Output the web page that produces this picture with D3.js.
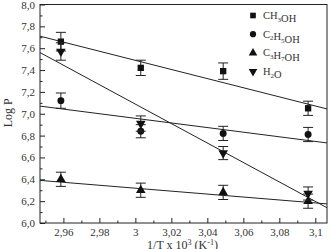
<!DOCTYPE html>
<html>
<head>
<meta charset="utf-8">
<script src="https://cdn.jsdelivr.net/npm/d3@7"></script>
<style>
  body { margin: 0; background: #fff; }
  svg text { font-family: "Liberation Serif", "Times New Roman", serif; fill: #333; }
</style>
</head>
<body>
<div id="chart"></div>
<script>
// data
const invT = [2.9586, 3.0030, 3.0488, 3.0960];
const seriesNames = ["CH3OH", "C2H5OH", "C3H7OH", "H2O"];
const ch3oh = [7.66, 7.42, 7.39, 7.05];
const c2h5oh = [7.12, 6.84, 6.82, 6.81];
const c3h7oh = [6.40, 6.30, 6.28, 6.20];
const h2o = [7.57, 6.91, 6.64, 6.27];
const ch3ohErr = [0.085, 0.07, 0.075, 0.065];
const c2h5ohErr = [0.07, 0.06, 0.065, 0.065];
const c3h7ohErr = [0.065, 0.065, 0.065, 0.065];
const h2oErr = [0.08, 0.07, 0.06, 0.06];
// fitted lines: value at left and right end of x axis
const fitLeft = [7.71, 7.07, 6.39, 7.56];
const fitRight = [7.044, 6.733, 6.175, 6.14];
const xTicks = [2.96, 2.98, 3.00, 3.02, 3.04, 3.06, 3.08, 3.10];
const yTicks = [6.0, 6.2, 6.4, 6.6, 6.8, 7.0, 7.2, 7.4, 7.6, 7.8, 8.0];

const margin = { top: 4.5, right: 5, bottom: 26, left: 40 }
const width = 332 - margin.left - margin.right
const height = 249 - margin.top - margin.bottom

const svg = d3.select("#chart")
  .append("svg")
  .attr("width", 332)
  .attr("height", 249)
  .append("g")
  .attr("transform", "translate(" + margin.left + "," + margin.top + ")");

const x = d3.scaleLinear().domain([2.947, 3.1065]).range([0, width]);
const y = d3.scaleLinear().domain([6.0, 8.0]).range([height, 0]);

const ink = "#222";

// axes with inward ticks
const xAxis = d3.axisBottom(x).tickValues(xTicks).tickSizeInner(-5).tickSizeOuter(0).tickPadding(5)
  .tickFormat(d => String(+d.toFixed(2)).replace(".", ","));
const xMinor = d3.axisBottom(x).tickValues(xTicks.map(d => d - 0.01)).tickSizeInner(-2.5).tickSizeOuter(0).tickFormat("");
const yAxis = d3.axisLeft(y).tickValues(yTicks).tickSizeInner(-5).tickSizeOuter(0).tickPadding(5)
  .tickFormat(d => d.toFixed(1).replace(".", ","));
const yMinor = d3.axisLeft(y).tickValues(yTicks.slice(1).map(d => d - 0.1)).tickSizeInner(-2.5).tickSizeOuter(0).tickFormat("");

[[xAxis, true], [xMinor, true], [yAxis, false], [yMinor, false]].forEach(([ax, isX]) => {
  const g = svg.append("g")
    .attr("transform", isX ? "translate(0," + height + ")" : null)
    .call(ax);
  g.attr("font-family", null);
  g.select(".domain").remove();
  g.selectAll("line").attr("stroke", ink);
  g.selectAll("text").style("font-size", "11px").attr("fill", "#333");
});

svg.append("rect")
  .attr("width", width)
  .attr("height", height)
  .attr("fill", "none")
  .attr("stroke", ink)
  .attr("stroke-width", 1);

const series = [
  { vals: ch3oh, err: ch3ohErr, sym: d3.symbolSquare, size: 40, rot: 0 },
  { vals: c2h5oh, err: c2h5ohErr, sym: d3.symbolCircle, size: 38, rot: 0 },
  { vals: c3h7oh, err: c3h7ohErr, sym: d3.symbolTriangle, size: 40, rot: 0 },
  { vals: h2o, err: h2oErr, sym: d3.symbolTriangle, size: 40, rot: 180 }
];

// fit lines
series.forEach((s, i) => {
  svg.append("line")
    .attr("x1", x(x.domain()[0]))
    .attr("y1", y(fitLeft[i]))
    .attr("x2", x(x.domain()[1]))
    .attr("y2", y(fitRight[i]))
    .attr("stroke", ink)
    .attr("stroke-width", 1);
});

// error bars and markers
series.forEach(s => {
  const pts = invT.map((t, j) => ({ t: t, v: s.vals[j], e: s.err[j] }));
  const g = svg.append("g");
  g.selectAll("line.eb").data(pts).enter().append("line")
    .attr("x1", d => x(d.t)).attr("x2", d => x(d.t))
    .attr("y1", d => y(d.v + d.e)).attr("y2", d => y(d.v - d.e))
    .attr("stroke", ink);
  [1, -1].forEach(sign => {
    g.selectAll("line.cap" + sign).data(pts).enter().append("line")
      .attr("x1", d => x(d.t) - 5).attr("x2", d => x(d.t) + 5)
      .attr("y1", d => y(d.v + sign * d.e)).attr("y2", d => y(d.v + sign * d.e))
      .attr("stroke", ink);
  });
  g.selectAll("path").data(pts).enter().append("path")
    .attr("d", d3.symbol().type(s.sym).size(s.size))
    .attr("transform", d => "translate(" + x(d.t) + "," + y(d.v) + ") rotate(" + s.rot + ")")
    .attr("fill", "#111");
});

// legend
const legend = svg.append("g").attr("transform", "translate(213,11)");
series.forEach((s, i) => {
  const row = legend.append("g").attr("transform", "translate(0," + i * 18.7 + ")");
  row.append("path")
    .attr("d", d3.symbol().type(s.sym).size(s.size * 0.8))
    .attr("transform", "rotate(" + s.rot + ")")
    .attr("fill", "#111");
  const txt = row.append("text").attr("x", 10).attr("y", 3.5).style("font-size", "10.5px");
  // split chemical formula into normal text and subscripts
  seriesNames[i].match(/[A-Za-z]+|\d+/g).forEach(part => {
    if (/\d/.test(part)) {
      txt.append("tspan").attr("dy", 2.5).style("font-size", "7px").text(part);
      txt.append("tspan").attr("dy", -2.5).text("");
    } else {
      txt.append("tspan").text(part);
    }
  });
});

// axis titles
svg.append("text")
  .attr("transform", "translate(" + (-28) + "," + (height / 2 - 1) + ") rotate(-90)")
  .style("text-anchor", "middle")
  .style("font-size", "12px")
  .text("Log P");

const xt = svg.append("text")
  .attr("x", width / 2 - 1)
  .attr("y", height + 26)
  .style("text-anchor", "middle")
  .style("font-size", "12px");
xt.append("tspan").text("1/T x 10");
xt.append("tspan").attr("dy", -4).style("font-size", "8px").text("3");
xt.append("tspan").attr("dy", 4).text(" (K");
xt.append("tspan").attr("dy", -4).style("font-size", "8px").text("-1");
xt.append("tspan").attr("dy", 4).text(")");
</script>
</body>
</html>
